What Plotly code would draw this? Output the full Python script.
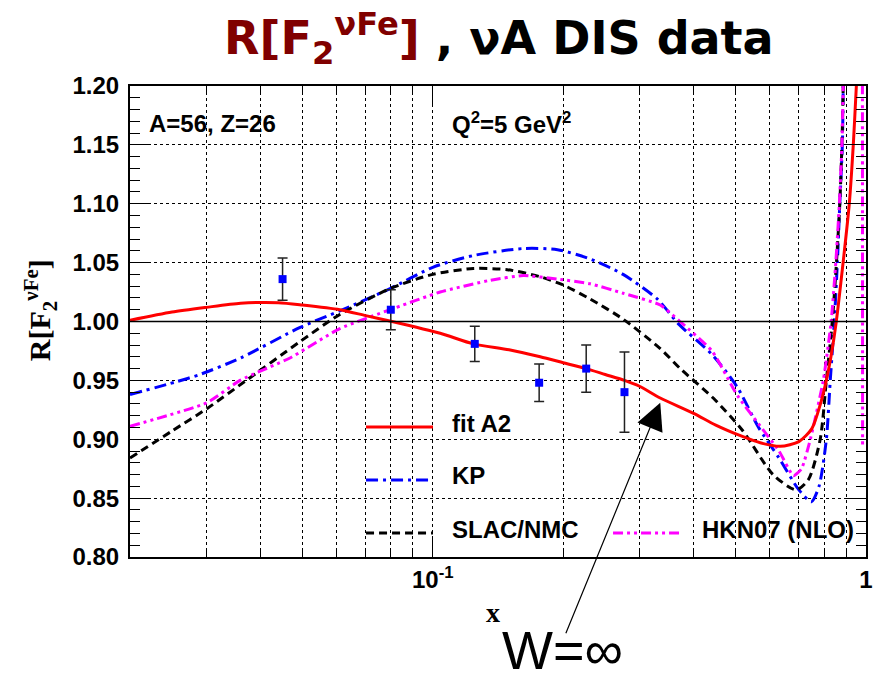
import math
import plotly.graph_objects as go

# ---------------- data ----------------
x_fit = [0.02, 0.025, 0.03, 0.036, 0.044, 0.05, 0.061, 0.07, 0.0805, 0.104, 0.124, 0.15, 0.177, 0.2,
         0.226, 0.25, 0.277, 0.30, 0.335, 0.4, 0.45, 0.513, 0.57, 0.634, 0.7, 0.75, 0.785, 0.81, 0.83,
         0.854, 0.886, 0.915, 0.935, 0.95, 0.96]
y_fit = [1.001, 1.008, 1.012, 1.0155, 1.016, 1.014, 1.010, 1.005, 1.000, 0.990, 0.981, 0.976, 0.970, 0.965,
         0.960, 0.955, 0.950, 0.945, 0.935, 0.922, 0.912, 0.903, 0.897, 0.894, 0.898, 0.909, 0.930, 0.950, 0.970,
         1.000, 1.051, 1.100, 1.151, 1.200, 1.230]

x_kp = [0.02, 0.0257, 0.029, 0.036, 0.0494, 0.061, 0.0797, 0.1, 0.124, 0.162, 0.194, 0.231, 0.275, 0.33,
        0.369, 0.441, 0.505, 0.565, 0.63, 0.70, 0.748, 0.779, 0.81, 0.827, 0.845, 0.859, 0.870, 0.882,
        0.886, 0.89]
y_kp = [0.938, 0.949, 0.955, 0.969, 0.995, 1.009, 1.028, 1.046, 1.056, 1.062, 1.061, 1.053, 1.040, 1.019,
        0.998, 0.972, 0.944, 0.910, 0.884, 0.857, 0.847, 0.860, 0.900, 0.950, 1.000, 1.051, 1.100, 1.151,
        1.200, 1.250]

x_slac = [0.02, 0.025, 0.0301, 0.0368, 0.0494, 0.061, 0.0797, 0.1, 0.124, 0.1485, 0.177, 0.2, 0.231,
          0.275, 0.335, 0.3725, 0.444, 0.52, 0.61, 0.69, 0.737, 0.784, 0.81, 0.836, 0.855, 0.87, 0.88,
          0.886, 0.89]
y_slac = [0.884, 0.907, 0.926, 0.949, 0.983, 1.006, 1.028, 1.040, 1.045, 1.044, 1.038, 1.031, 1.019,
          1.002, 0.977, 0.960, 0.935, 0.907, 0.870, 0.857, 0.866, 0.900, 0.950, 1.000, 1.051, 1.100, 1.151,
          1.200, 1.250]

x_hkn = [0.02, 0.0301, 0.0359, 0.0468, 0.061, 0.0797, 0.104, 0.1356, 0.162, 0.194, 0.231, 0.275, 0.335,
         0.372, 0.441, 0.505, 0.565, 0.63, 0.68, 0.71, 0.744, 0.797, 0.831, 0.852, 0.868, 0.88, 0.886,
         0.90, 0.95, 0.978, 0.981, 0.982]
y_hkn = [0.911, 0.931, 0.950, 0.969, 0.994, 1.010, 1.025, 1.035, 1.039, 1.036, 1.032, 1.024, 1.014,
         1.000, 0.975, 0.937, 0.913, 0.890, 0.869, 0.875, 0.900, 0.950, 1.000, 1.051, 1.100, 1.151, 1.200,
         1.350, 1.600, 1.600, 1.250, 0.893]

x_data = [0.045, 0.080, 0.125, 0.176, 0.226, 0.277]
y_data = [1.036, 1.010, 0.981, 0.948, 0.960, 0.940]
e_data = [0.018, 0.017, 0.015, 0.016, 0.020, 0.034]

y_ticks = [0.80, 0.85, 0.90, 0.95, 1.00, 1.05, 1.10, 1.15, 1.20]
x_major = [0.1, 1.0]
x_major_text = ["10<sup>-1</sup>", "1"]
x_minor = [0.03, 0.04, 0.05, 0.06, 0.07, 0.08, 0.09, 0.2, 0.3, 0.4, 0.5, 0.6, 0.7, 0.8, 0.9]

legend_names = ["fit A2", "KP", "SLAC/NMC", "HKN07 (NLO)"]

# ---------------- styles ----------------
RED = "#ff0000"
BLUE = "#0000ff"
BLACK = "#000000"
MAG = "#ff00ff"
DASH_KP = "12px,5px,3px,5px"
DASH_SLAC = "8px,5px"
DASH_HKN = "10px,4px,3px,4px,3px,4px"
HELV = "Liberation Sans"
TIMES = "Liberation Serif"
SMOOTH = 0.7

fig = go.Figure()

fig.add_trace(go.Scatter(x=x_kp, y=y_kp, mode="lines",
                         line=dict(color=BLUE, width=3, dash=DASH_KP, shape="spline", smoothing=SMOOTH),
                         showlegend=False))
fig.add_trace(go.Scatter(x=x_slac, y=y_slac, mode="lines",
                         line=dict(color=BLACK, width=3, dash=DASH_SLAC, shape="spline", smoothing=SMOOTH),
                         showlegend=False))
fig.add_trace(go.Scatter(x=x_hkn, y=y_hkn, mode="lines",
                         line=dict(color=MAG, width=3, dash=DASH_HKN, shape="spline", smoothing=0.5),
                         showlegend=False))
fig.add_trace(go.Scatter(x=x_fit, y=y_fit, mode="lines",
                         line=dict(color=RED, width=3, shape="spline", smoothing=SMOOTH),
                         showlegend=False))
fig.add_trace(go.Scatter(x=x_data, y=y_data, mode="markers",
                         marker=dict(symbol="square", size=8, color=BLUE),
                         error_y=dict(type="data", array=e_data, color="#222222", thickness=1.5, width=5),
                         showlegend=False))

# reference line at R = 1
fig.add_shape(type="line", xref="paper", x0=0, x1=1, yref="y", y0=1.0, y1=1.0,
              line=dict(color=BLACK, width=1.5))

# legend (custom, ROOT-like layout)
leg_items = [
    (legend_names[0], dict(color=RED, width=3), 0.3207, 0.4117, 0.276, 0.2845),
    (legend_names[1], dict(color=BLUE, width=3, dash=DASH_KP), 0.3207, 0.4117, 0.1635, 0.172),
    (legend_names[2], dict(color=BLACK, width=3, dash=DASH_SLAC), 0.3207, 0.4117, 0.051, 0.0594),
    (legend_names[3], dict(color=MAG, width=3, dash=DASH_HKN), 0.6563, 0.7514, 0.051, 0.0594),
]
for name, ln, x0, x1, ly, ty in leg_items:
    fig.add_shape(type="line", xref="paper", yref="paper", x0=x0, x1=x1, y0=ly, y1=ly, line=ln)
    fig.add_annotation(xref="paper", yref="paper", x=x1 + 0.0231, y=ty, text=name, showarrow=False,
                       xanchor="left", yanchor="middle",
                       font=dict(family=HELV, size=24, color=BLACK, weight="bold"))

# in-plot labels
fig.add_annotation(xref="paper", yref="paper", x=0.0231, y=0.9214, text="A=56, Z=26", showarrow=False,
                   xanchor="left", yanchor="middle", font=dict(family=HELV, size=24, color=BLACK, weight="bold"))
fig.add_annotation(xref="paper", yref="paper", x=0.4348, y=0.9214, text="Q<sup>2</sup>=5 GeV<sup>2</sup>",
                   showarrow=False, xanchor="left", yanchor="middle",
                   font=dict(family=HELV, size=24, color=BLACK, weight="bold"))

# title
fig.add_annotation(xref="paper", yref="paper", x=0.5007, y=1.10,
                   text="<span style='color:#800000'>R[F<sub>2</sub><sup>νFe</sup>]</span> , νA DIS data",
                   showarrow=False, xanchor="center", yanchor="middle",
                   font=dict(family="DejaVu Sans", size=46, color=BLACK, weight="bold"))

# axis titles
fig.add_annotation(xref="paper", yref="paper", x=-0.1223, y=0.524, textangle=-90,
                   text="R[F<sub>2</sub><sup>νFe</sup>]", showarrow=False, xanchor="center", yanchor="middle",
                   font=dict(family=TIMES, size=30, color=BLACK, weight="bold"))
fig.add_annotation(xref="paper", yref="paper", x=0.493, y=-0.117, text="x", showarrow=False,
                   xanchor="center", yanchor="middle",
                   font=dict(family=TIMES, size=28, color=BLACK, weight="bold"))

# W = infinity arrow
fig.add_annotation(xref="x", yref="y", x=math.log10(0.335), y=0.931, text="", showarrow=True,
                   ax=-95, ay=232, arrowhead=2, arrowsize=4.5, arrowwidth=1.2, arrowcolor=BLACK)
fig.add_annotation(xref="paper", yref="paper", x=0.587, y=-0.1975, text="W=∞", showarrow=False,
                   xanchor="center", yanchor="middle", font=dict(family=HELV, size=54, color=BLACK))

fig.update_layout(
    width=876, height=686,
    margin=dict(l=130, r=10, t=86, b=129, autoexpand=False),
    plot_bgcolor="white", paper_bgcolor="white",
    xaxis=dict(
        type="log", range=[math.log10(0.02), 0.0], automargin=False,
        tickmode="array", tickvals=x_major, ticktext=x_major_text,
        ticks="inside", ticklen=18, tickwidth=1, tickcolor=BLACK,
        showline=True, linecolor=BLACK, linewidth=2, mirror="ticks",
        showgrid=True, gridcolor=BLACK, griddash="dot", gridwidth=1, zeroline=False,
        tickfont=dict(family=HELV, size=24, color=BLACK, weight="bold"),
        minor=dict(tickmode="array", tickvals=x_minor, ticks="inside", ticklen=9, tickcolor=BLACK,
                   showgrid=True, gridcolor=BLACK, griddash="dot", gridwidth=1),
    ),
    yaxis=dict(
        range=[0.8, 1.2], automargin=False,
        tickmode="array", tickvals=y_ticks, ticktext=[f"{v:.2f}" for v in y_ticks],
        ticks="inside", ticklen=20, tickwidth=1, tickcolor=BLACK,
        showline=True, linecolor=BLACK, linewidth=2, mirror="ticks",
        showgrid=True, gridcolor=BLACK, griddash="dot", gridwidth=1, zeroline=False,
        ticklabelstandoff=4,
        tickfont=dict(family=HELV, size=24, color=BLACK, weight="bold"),
        minor=dict(dtick=0.01, ticks="inside", ticklen=10, tickcolor=BLACK, showgrid=False),
    ),
)

fig.write_html("out.html")
